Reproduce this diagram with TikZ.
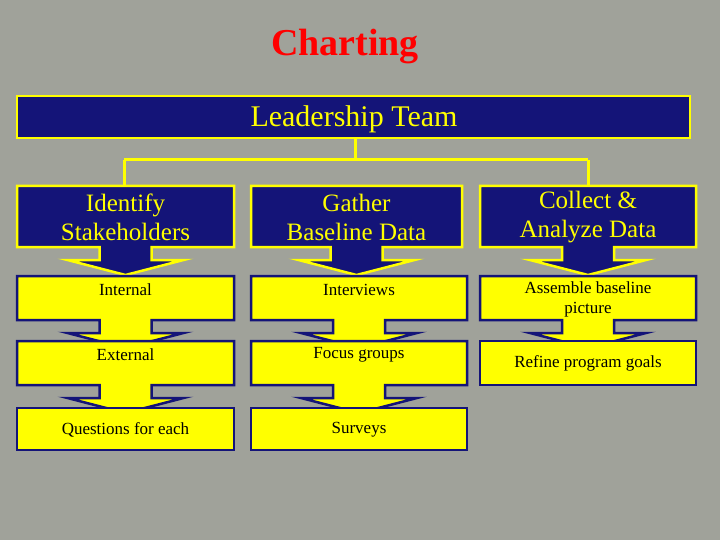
\documentclass[tikz,border=0pt]{standalone}
\usepackage{fontspec}
\setmainfont{Liberation Serif}
\definecolor{bg}{HTML}{A0A29A}
\definecolor{navy}{HTML}{141478}
\definecolor{yel}{HTML}{FFFF00}
\begin{document}
\begin{tikzpicture}[x=1pt,y=-1pt,
  bluebox/.style={fill=navy,draw=yel,line width=2.5pt},
  yelbox/.style={fill=yel,draw=navy,line width=2.5pt},
  btxt/.style={text=yel,font=\fontsize{25}{29}\selectfont,align=center},
  ytxt/.style={text=black,font=\fontsize{17}{20}\selectfont,align=center},
  link/.style={draw=yel,line width=3pt}]
\fill[bg] (0,0) rectangle (720,540);
\useasboundingbox (0,0) rectangle (720,540);
% box with arrow: #1 style, #2 x1, #3 x2, #4 top, #5 bottom
\newcommand\boxarrow[5]{%
 \pgfmathsetmacro\cx{(#2+#3)/2}%
 \path[#1,line join=miter] (#2,#4) -- (#3,#4) -- (#3,#5) -- (\cx+26,#5) -- (\cx+26,#5+13) -- (\cx+58,#5+13) -- (\cx,#5+28) -- (\cx-58,#5+13) -- (\cx-26,#5+13) -- (\cx-26,#5) -- (#2,#5) -- cycle;}
\node[text=red,font=\bfseries\fontsize{38}{42}\selectfont] (title) at (345,47) {Charting};
\node[bluebox,minimum width=673pt,minimum height=42pt] (lead) at (353.5,117) {};
\node[btxt,font=\fontsize{30}{34}\selectfont] (leadt) at (354,119) {Leadership Team};
\coordinate (j) at (355,160);
\coordinate (l) at (124,160);
\coordinate (r) at (588,160);
\draw[link] (lead.south -| j) -- (j);
\draw[link] (l) -- (r);
\draw[link] (l) -- (124,186);
\draw[link] (r) -- (588,186);
% row 0
\boxarrow{bluebox}{17}{234}{186}{247}
\boxarrow{bluebox}{251}{462}{186}{247}
\boxarrow{bluebox}{480}{696}{186}{247}
\node[btxt] (a0) at (125.5,217) {Identify\\Stakeholders};
\node[btxt] (b0) at (356.5,217) {Gather\\Baseline Data};
\node[btxt] (c0) at (588,217) {Collect \&\\Analyze Data};
% row 1
\boxarrow{yelbox}{17}{234}{276}{320}
\boxarrow{yelbox}{251}{467}{276}{320}
\boxarrow{yelbox}{480}{696}{276}{320}
\node[ytxt] (a1) at (125.5,290) {Internal};
\node[ytxt] (b1) at (359,290) {Interviews};
\node[ytxt,font=\fontsize{17}{20}\selectfont] (c1) at (588,299) {Assemble baseline\\picture};
% row 2
\boxarrow{yelbox}{17}{234}{341}{385}
\boxarrow{yelbox}{251}{467}{341}{385}
\path[yelbox] (480,341) rectangle (696,385);
\node[ytxt] (a2) at (125.5,355) {External};
\node[ytxt] (b2) at (359,355) {Focus groups};
\node[ytxt] (c2) at (588,363) {Refine program goals};
% row 3
\path[yelbox] (17,408) rectangle (234,450);
\path[yelbox] (251,408) rectangle (467,450);
\node[ytxt] (a3) at (125.5,430) {Questions for each};
\node[ytxt] (b3) at (359,430) {Surveys};
\end{tikzpicture}
\end{document}
